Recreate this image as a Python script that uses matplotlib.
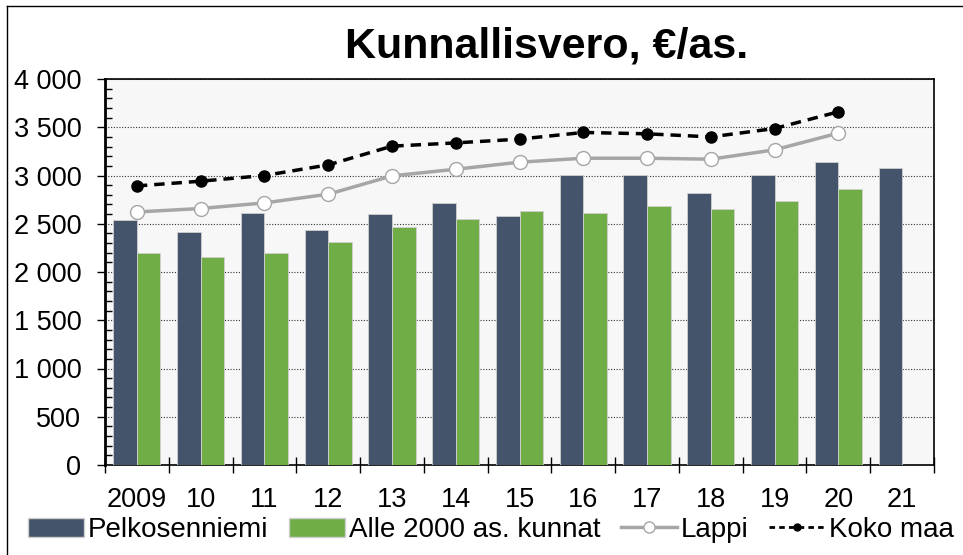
import matplotlib
matplotlib.use("Agg")
import matplotlib.pyplot as plt
import numpy as np
from matplotlib.ticker import FuncFormatter, MultipleLocator, FixedLocator
from matplotlib.lines import Line2D
from matplotlib.patches import Patch

years = ["2009", "10", "11", "12", "13", "14", "15", "16", "17", "18", "19", "20", "21"]
pelkosenniemi = [2540, 2410, 2615, 2440, 2605, 2710, 2580, 3010, 3010, 2820, 3010, 3145, 3078]
alle2000 = [2195, 2153, 2195, 2311, 2463, 2550, 2635, 2615, 2680, 2648, 2732, 2863]
lappi = [2622, 2658, 2716, 2806, 2996, 3065, 3138, 3179, 3179, 3169, 3266, 3439]
koko_maa = [2892, 2941, 3000, 3110, 3304, 3338, 3377, 3446, 3432, 3400, 3487, 3660]

FONT = ["Liberation Sans Narrow", "Liberation Sans", "DejaVu Sans"]
plt.rcParams["font.family"] = FONT

fig = plt.figure(figsize=(9.63, 5.55), dpi=100)
ax = fig.add_axes([105/963, 90/555, 829/963, 386/555])
ax.set_facecolor("#f7f7f7")

x = np.arange(len(years))
w = 0.37
ax.bar(x[:len(pelkosenniemi)] - w/2, pelkosenniemi, w, color="#44546a", edgecolor="#d0d0d0", linewidth=0.6, zorder=3)
ax.bar(x[:len(alle2000)] + w/2, alle2000, w, color="#70ad47", edgecolor="#d0d0d0", linewidth=0.6, zorder=3)
ax.plot(x[:len(lappi)], lappi, color="#a6a6a6", lw=2.5, marker="o", ms=10, mfc="white", mec="#a6a6a6", mew=1, zorder=4)
ax.plot(x[:len(koko_maa)], koko_maa, color="black", lw=2.5, ls=(0, (3, 2)), marker="o", ms=8, mfc="black", mec="black", zorder=5)

ax.set_xlim(-0.5, len(years) - 0.5)
ax.set_ylim(0, 4000)
ax.yaxis.set_major_locator(MultipleLocator(500))
ax.yaxis.set_minor_locator(MultipleLocator(100))
ax.yaxis.set_major_formatter(FuncFormatter(lambda v, p: f"{int(v):,}".replace(",", " ")))
ax.grid(axis="y", which="major", color="#333333", lw=0.8, ls=(0, (1, 1.5)), zorder=1)
ax.tick_params(axis="y", which="major", direction="out", length=6, width=1, labelsize=19.5, pad=11)
ax.tick_params(axis="y", which="minor", direction="in", length=5, width=1)

ax.xaxis.set_major_locator(FixedLocator(np.arange(-0.5, len(years), 1)))
ax.xaxis.set_minor_locator(FixedLocator(x))
ax.set_xticklabels([], minor=False)
ax.set_xticks(x, years, minor=True)
ax.tick_params(axis="x", which="major", direction="inout", length=11.5, width=1)
ax.tick_params(axis="x", which="minor", length=0, labelsize=19.5, pad=16)

for s in ax.spines.values():
    s.set_color("black")
    s.set_linewidth(1.2)
ax.spines["left"].set_linewidth(2)

fig.text(547/963, 1 - 47/555, "Kunnallisvero, €/as.", ha="center", va="center", fontsize=31, fontweight="bold")

handles = [
    Patch(facecolor="#44546a", edgecolor="#d0d0d0"),
    Patch(facecolor="#70ad47", edgecolor="#d0d0d0"),
    Line2D([], [], color="#a6a6a6", lw=2.5, marker="o", ms=8, mfc="white", mec="#a6a6a6"),
    Line2D([], [], color="black", lw=2, ls=(0, (2, 1.5)), marker="o", ms=5, mfc="black"),
]
labels = ["Pelkosenniemi", "Alle 2000 as. kunnat", "Lappi", "Koko maa"]
fig.legend(handles, labels, loc="center", bbox_to_anchor=(491/963, 1 - 530/555), ncol=4, frameon=False,
           fontsize=20, handlelength=2.0, handletextpad=0.15, columnspacing=0.75, handleheight=0.65,
           borderpad=0, borderaxespad=0)

fig.add_artist(Line2D([7/963, 7/963], [0, 1 - 6/555], transform=fig.transFigure, color="black", lw=1))
fig.add_artist(Line2D([7/963, 1], [1 - 6/555, 1 - 6/555], transform=fig.transFigure, color="black", lw=1))

fig.savefig("out.png", dpi=100)
